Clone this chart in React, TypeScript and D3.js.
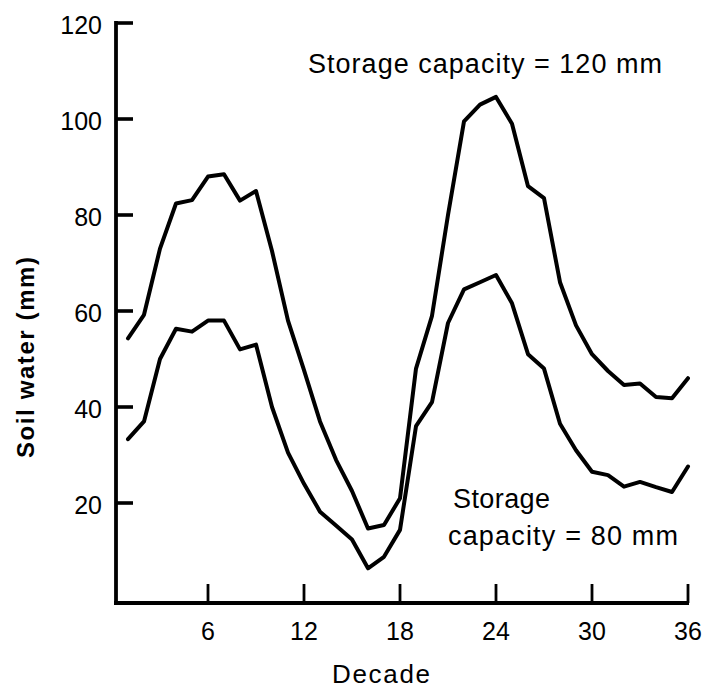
import React from "react";
import * as d3 from "d3";

// Decades of the year (10-day periods)
const decades: number[] = Array.from({ length: 36 }, (_, i) => i + 1);

// Soil water (mm) for a storage capacity of 120 mm
const soilWater120: number[] = [
  54.3, 59.2, 73, 82.4, 83.1, 88, 88.5, 83, 85, 72.5,
  58, 47.7, 37, 29, 22.5, 14.7, 15.4, 21, 48, 59,
  80, 99.5, 103, 104.6, 99, 86, 83.5, 66, 57, 51,
  47.5, 44.6, 44.9, 42.1, 41.8, 46,
];

// Soil water (mm) for a storage capacity of 80 mm
const soilWater80: number[] = [
  33.3, 37, 50, 56.3, 55.7, 58, 58, 52, 53, 40,
  30.5, 24, 18.2, 15.3, 12.4, 6.4, 8.8, 14.4, 36, 41,
  57.5, 64.5, 66, 67.5, 61.6, 51, 48, 36.5, 31, 26.5,
  25.8, 23.4, 24.4, 23.3, 22.3, 27.6,
];

const xTicks: number[] = [6, 12, 18, 24, 30, 36];
const yTicks: number[] = [20, 40, 60, 80, 100, 120];

const W = 705;
const H = 690;
const FONT = "'Liberation Sans', Arial, Helvetica, sans-serif";

export default function App() {
  const x = d3.scaleLinear().domain([0, 36]).range([112, 688]);
  const y = d3.scaleLinear().domain([0, 120]).range([599, 23]);

  const axisX = x(0) + 4; // vertical axis position
  const axisY = y(0) + 4; // horizontal axis position

  const line = d3
    .line<number>()
    .x((_, i) => x(decades[i]))
    .y((v) => y(v));

  return (
    <svg
      width={W}
      height={H}
      style={{ position: "absolute", left: 0, top: 0, background: "#fff" }}
      fontFamily={FONT}
    >
      <rect width={W} height={H} fill="#fff" />

      {/* series */}
      <g fill="none" stroke="#000" strokeWidth={4} strokeLinejoin="round" strokeLinecap="round">
        <path d={line(soilWater120) ?? ""} />
        <path d={line(soilWater80) ?? ""} />
      </g>

      {/* y axis */}
      <line x1={axisX} x2={axisX} y1={y(120) - 2} y2={axisY + 2} stroke="#000" strokeWidth={3.8} />
      {yTicks.map((t) => (
        <g key={`yt${t}`}>
          <line x1={axisX} x2={axisX + 17} y1={y(t)} y2={y(t)} stroke="#000" strokeWidth={3.6} />
          <text x={102} y={y(t) + 11} fontSize={25} textAnchor="end" fill="#000">
            {t}
          </text>
        </g>
      ))}

      {/* x axis */}
      <line x1={axisX - 2} x2={x(36) + 1} y1={axisY} y2={axisY} stroke="#000" strokeWidth={3.8} />
      {xTicks.map((t) => (
        <g key={`xt${t}`}>
          <line x1={x(t)} x2={x(t)} y1={axisY} y2={axisY - 19} stroke="#000" strokeWidth={2.8} />
          <text x={x(t)} y={640} fontSize={25} textAnchor="middle" fill="#000">
            {t}
          </text>
        </g>
      ))}

      {/* axis titles */}
      <text x={381} y={683} fontSize={26} textAnchor="middle" fill="#000" textLength={98} lengthAdjust="spacing">
        Decade
      </text>
      <text
        transform="translate(34,357.5) rotate(-90)"
        fontSize={24}
        fontWeight="bold"
        textAnchor="middle"
        fill="#000"
        textLength={201}
        lengthAdjust="spacing"
      >
        Soil water (mm)
      </text>

      {/* annotations */}
      <text x={308} y={73} fontSize={27} fill="#000" textLength={354} lengthAdjust="spacing">
        Storage capacity = 120 mm
      </text>
      <text x={453} y={508} fontSize={27} fill="#000" textLength={97} lengthAdjust="spacing">
        Storage
      </text>
      <text x={448} y={545} fontSize={27} fill="#000" textLength={230} lengthAdjust="spacing">
        capacity = 80 mm
      </text>
    </svg>
  );
}
